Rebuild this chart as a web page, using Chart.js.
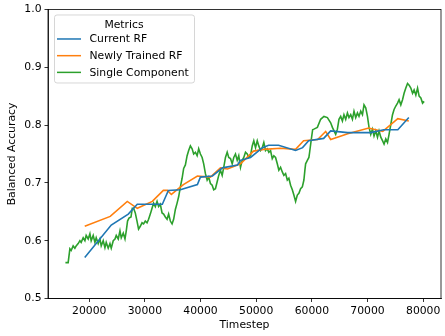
<!DOCTYPE html>
<html>
<head>
<meta charset="utf-8">
<script src="https://cdn.jsdelivr.net/npm/chart.js@4.4.1/dist/chart.umd.min.js"></script>
<style>
  body { margin: 0; background: #fff; }
  canvas { display: block; }
</style>
</head>
<body>
<canvas id="myChart" width="445" height="336"></canvas>
<script>
// eje x y eje y
const xTicks = [20000, 30000, 40000, 50000, 60000, 70000, 80000];
const yTicks = [0.5, 0.6, 0.7, 0.8, 0.9, 1.0];

// Current RF
const currentT = [19200, 23960, 27020, 28640, 33140, 34220, 36380, 39440, 39980, 42140, 43940, 46640, 47180, 48980, 51140, 52220, 54020, 57080, 58340, 59420, 62120, 63380, 66440, 70580, 72920, 75440, 77420];
const currentV = [0.571, 0.627, 0.646, 0.663, 0.663, 0.687, 0.688, 0.697, 0.710, 0.712, 0.726, 0.731, 0.739, 0.744, 0.761, 0.765, 0.765, 0.756, 0.761, 0.773, 0.777, 0.790, 0.787, 0.787, 0.792, 0.792, 0.813];

// Newly Trained RF
const newlyT = [19200, 23780, 26840, 28640, 31340, 33320, 34040, 34760, 36920, 39440, 41780, 43580, 44840, 47180, 49520, 51320, 54380, 57080, 58520, 61040, 62480, 63380, 66440, 70220, 72740, 75440, 77420];
const newlyV = [0.625, 0.642, 0.668, 0.656, 0.668, 0.687, 0.687, 0.680, 0.697, 0.712, 0.710, 0.726, 0.724, 0.733, 0.755, 0.758, 0.760, 0.758, 0.773, 0.775, 0.789, 0.775, 0.785, 0.795, 0.789, 0.811, 0.807];

// Single Component
const singleT = [
  15730, 16220, 16530, 16760, 17120, 17430, 17660, 18020, 18330, 18560,
  18920, 19230, 19460, 19820, 20130, 20360, 20720, 21030, 21260, 21620,
  21930, 22160, 22520, 22830, 23060, 23420, 23730, 23960, 24320, 24630,
  24860, 25220, 25530, 25760, 26120, 26430, 26660, 26890, 27150, 27510,
  27740,
  27970, 28280, 28590, 28870, 29180, 29490, 29770, 30080, 30390, 30670,
  30980, 31290, 31570, 31880, 32190, 32470, 32780, 33090, 33370, 33680,
  33990, 34270, 34580, 34890, 35170, 35480, 35790, 36070, 36380, 36690,
  36970, 37280, 37590, 37870, 38180, 38490, 38770, 39080, 39390, 39670,
  39980,
  40290, 40570, 40880, 41190, 41470, 41780, 42090, 42370, 42680, 42990,
  43270, 43580, 43890, 44170, 44480, 44790, 45070, 45380, 45690, 45970,
  46280, 46590, 46870, 47180, 47490, 47770, 48080, 48390, 48670, 48980,
  49290, 49570, 49880, 50190, 50470, 50780, 51090, 51370, 51680, 51990,
  52270, 52580, 52890, 53170, 53480,
  53790, 54070, 54380, 54690, 54970, 55280, 55590, 55870, 56180, 56490,
  56770, 57080, 57390, 57670, 57980, 58290, 58570, 58750, 58880, 59190,
  59470, 59600, 59870, 60140,
  60370, 60990, 61580, 62170, 62790, 63380, 63690, 64280, 64590, 64870,
  65180, 65490, 65770, 66080, 66390, 66670, 66980, 67290, 67570, 67880,
  68190, 68470, 68780, 69090, 69370, 69680, 69990, 70270, 70580, 70890,
  71170, 71480, 71790, 72070, 72380, 72690, 72970, 73280, 73590, 73870,
  74180, 74490, 74770, 75080, 75390, 75670, 75980, 76290, 76570, 76880,
  77190, 77470, 77780, 78090, 78370, 78680, 78990, 79270, 79580, 79890,
  80170
];
const singleV = [
  0.562, 0.562, 0.586, 0.583, 0.591, 0.587, 0.591, 0.595, 0.600, 0.597,
  0.605, 0.600, 0.609, 0.603, 0.612, 0.600, 0.609, 0.597, 0.605, 0.595,
  0.603, 0.591, 0.600, 0.588, 0.597, 0.587, 0.595, 0.587, 0.600, 0.603,
  0.609, 0.603, 0.617, 0.605, 0.613, 0.603, 0.617, 0.634, 0.639, 0.641,
  0.656,
  0.656, 0.648, 0.634, 0.620, 0.625, 0.631, 0.629, 0.634, 0.631, 0.637,
  0.646, 0.656, 0.665, 0.659, 0.668, 0.659, 0.663, 0.648, 0.646, 0.641,
  0.637, 0.646, 0.634, 0.629, 0.637, 0.654, 0.665, 0.676, 0.693, 0.708,
  0.725, 0.731, 0.747, 0.756, 0.764, 0.759, 0.750, 0.753, 0.747, 0.759,
  0.750,
  0.744, 0.733, 0.716, 0.705, 0.710, 0.699, 0.696, 0.688, 0.690, 0.702,
  0.713, 0.722, 0.713, 0.727, 0.744, 0.753, 0.744, 0.742, 0.733, 0.744,
  0.750, 0.739, 0.747, 0.727, 0.739, 0.744, 0.753, 0.750, 0.744, 0.747,
  0.764, 0.773, 0.761, 0.773, 0.764, 0.756, 0.761, 0.770, 0.756, 0.759,
  0.753, 0.756, 0.742, 0.747, 0.744,
  0.733, 0.722, 0.727, 0.719, 0.713, 0.716, 0.705, 0.708, 0.696, 0.688,
  0.679, 0.668, 0.679, 0.682, 0.690, 0.693, 0.705, 0.722, 0.733, 0.739,
  0.744, 0.753, 0.773, 0.792,
  0.793, 0.796, 0.810, 0.815, 0.813, 0.804, 0.796, 0.784, 0.793, 0.810,
  0.815, 0.807, 0.818, 0.810, 0.821, 0.813, 0.818, 0.810, 0.824, 0.813,
  0.821, 0.815, 0.824, 0.818, 0.835, 0.830, 0.815, 0.796, 0.784, 0.793,
  0.781, 0.790, 0.779, 0.790, 0.779, 0.773, 0.767, 0.776, 0.770, 0.784,
  0.801, 0.818, 0.827, 0.833, 0.838, 0.844, 0.835, 0.844, 0.855, 0.864,
  0.872, 0.869, 0.864, 0.855, 0.861, 0.852, 0.864, 0.850, 0.847, 0.838,
  0.841
];

const toPoints = (ts, vs) => ts.map((t, i) => ({ x: t, y: vs[i] }));

const FONT = "'DejaVu Sans', sans-serif";
const FSIZE = 10.8;
Chart.defaults.font.family = FONT;
Chart.defaults.font.size = FSIZE;
Chart.defaults.color = "#000";

// leyenda dibujada a mano dentro del area, como la de matplotlib
const legendBox = {
  id: "legendBox",
  afterDatasetsDraw(chart) {
    const ctx = chart.ctx;
    const area = chart.chartArea;
    const x0 = area.left + 6;
    const y0 = area.top + 5;
    const w = 140;
    const h = 68;
    ctx.save();
    ctx.beginPath();
    ctx.roundRect(x0 + 0.5, y0 + 0.5, w, h, 2.5);
    ctx.fillStyle = "rgba(255,255,255,0.8)";
    ctx.fill();
    ctx.strokeStyle = "#cccccc";
    ctx.lineWidth = 0.8;
    ctx.stroke();

    ctx.fillStyle = "#000";
    ctx.font = FSIZE + "px " + FONT;
    ctx.textBaseline = "middle";
    ctx.textAlign = "center";
    ctx.fillText("Metrics", x0 + 70, y0 + 10.5);

    ctx.textAlign = "left";
    chart.data.datasets.forEach((ds, i) => {
      const y = y0 + 24.5 + i * 16.7;
      ctx.beginPath();
      ctx.moveTo(x0 + 3, y);
      ctx.lineTo(x0 + 27, y);
      ctx.strokeStyle = ds.borderColor;
      ctx.lineWidth = 1.5;
      ctx.stroke();
      ctx.fillText(ds.label, x0 + 35.5, y + 0.5);
    });
    ctx.restore();
  },
  afterDraw(chart) {
    // marco completo (spines de arriba y derecha)
    const ctx = chart.ctx;
    const a = chart.chartArea;
    ctx.save();
    ctx.strokeStyle = "#000";
    ctx.lineWidth = 0.8;
    ctx.strokeRect(a.left, a.top, a.right - a.left, a.bottom - a.top);
    ctx.restore();
  }
};

const grafica = document.getElementById("myChart");
const myChart = new Chart(grafica, {
  type: "line",
  data: {
    datasets: [
      { label: "Current RF", borderColor: "#1f77b4", data: toPoints(currentT, currentV) },
      { label: "Newly Trained RF", borderColor: "#ff7f0e", data: toPoints(newlyT, newlyV) },
      { label: "Single Component", borderColor: "#2ca02c", data: toPoints(singleT, singleV) }
    ]
  },
  options: {
    responsive: false,
    animation: false,
    devicePixelRatio: 1,
    layout: { padding: { left: 0, right: 4, top: 5.5, bottom: 0 } },
    elements: {
      line: { borderWidth: 1.6, tension: 0, fill: false },
      point: { radius: 0 }
    },
    plugins: {
      legend: { display: false },
      tooltip: { enabled: false }
    },
    scales: {
      x: {
        type: "linear",
        min: 12600,
        max: 83200,
        afterBuildTicks: (s) => { s.ticks = xTicks.map((v) => ({ value: v })); },
        afterFit: (s) => { s.height = 37.5; },
        grid: { drawOnChartArea: false, tickLength: 3.5, tickColor: "#000", tickWidth: 0.8 },
        border: { color: "#000", width: 0.8 },
        ticks: { padding: 2.5, maxRotation: 0, autoSkip: false, callback: (v) => String(v) },
        title: { display: true, text: "Timestep", padding: { top: 0, bottom: 4 } }
      },
      y: {
        min: 0.5,
        max: 1.0,
        afterBuildTicks: (s) => { s.ticks = yTicks.map((v) => ({ value: v })); },
        afterFit: (s) => { s.width = 48; },
        grid: { drawOnChartArea: false, tickLength: 3.5, tickColor: "#000", tickWidth: 0.8 },
        border: { color: "#000", width: 0.8 },
        ticks: { padding: 3, autoSkip: false, callback: (v) => v.toFixed(1) },
        title: { display: true, text: "Balanced Accuracy", padding: { top: 6, bottom: 0 } }
      }
    }
  },
  plugins: [legendBox]
});
</script>
</body>
</html>
